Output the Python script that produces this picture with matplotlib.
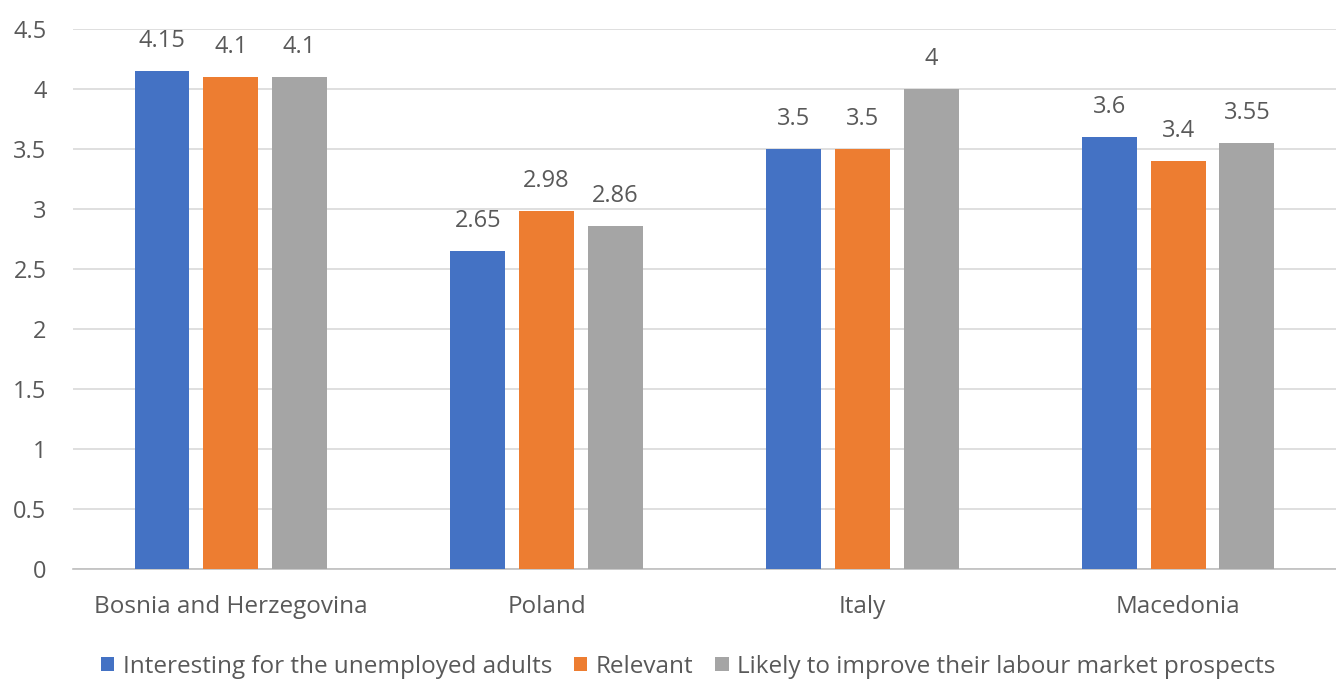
import matplotlib
matplotlib.use("Agg")
import matplotlib.pyplot as plt
import numpy as np

categories = ["Bosnia and Herzegovina", "Poland", "Italy", "Macedonia"]
series_names = ["Interesting for the unemployed adults", "Relevant",
                "Likely to improve their labour market prospects"]
interesting = [4.15, 2.65, 3.5, 3.6]
relevant = [4.1, 2.98, 3.5, 3.4]
likely = [4.1, 2.86, 4.0, 3.55]
labels_interesting = ["4.15", "2.65", "3.5", "3.6"]
labels_relevant = ["4.1", "2.98", "3.5", "3.4"]
labels_likely = ["4.1", "2.86", "4", "3.55"]
yticks = [0, 0.5, 1, 1.5, 2, 2.5, 3, 3.5, 4, 4.5]
ytick_labels = ["0", "0.5", "1", "1.5", "2", "2.5", "3", "3.5", "4", "4.5"]

colors = ["#4472C4", "#ED7D31", "#A5A5A5"]
text_color = "#595959"
plt.rcParams['font.family'] = ['Open Sans', 'DejaVu Sans']
fs = 17

fig = plt.figure(figsize=(13.36, 6.82), dpi=100)
ax = fig.add_axes([0.0546, 0.1657, 0.9454, 0.7918])

x = np.arange(len(categories))
width = 0.174
offsets = [-0.218, 0.0, 0.218]
all_vals = [interesting, relevant, likely]
all_labels = [labels_interesting, labels_relevant, labels_likely]
for vals, labs, off, c, name in zip(all_vals, all_labels, offsets, colors, series_names):
    bars = ax.bar(x + off, vals, width, color=c, label=name, zorder=3)
    ax.bar_label(bars, labels=labs, padding=13, fontsize=fs, color=text_color)

ax.set_xlim(-0.5, len(categories) - 0.5)
ax.set_ylim(0, 4.5)
ax.set_yticks(yticks)
ax.set_yticklabels(ytick_labels)
ax.set_xticks(x)
ax.set_xticklabels(categories, fontsize=17.5)
ax.tick_params(axis='y', labelsize=fs)
ax.tick_params(axis='both', length=0, labelcolor=text_color)
ax.tick_params(axis='x', pad=19)
ax.tick_params(axis='y', pad=19)
ax.grid(axis='y', color="#D9D9D9", linewidth=1.2, zorder=0)
for s in ['top', 'right', 'left']:
    ax.spines[s].set_visible(False)
ax.spines['bottom'].set_color("#BFBFBF")
ax.spines['bottom'].set_linewidth(1.2)

fig.legend(loc='lower center', bbox_to_anchor=(0.515, -0.027), ncol=3, frameon=False,
           fontsize=17.5, labelcolor=text_color, handlelength=0.55, handleheight=0.55,
           handletextpad=0.35, columnspacing=0.9)

fig.savefig("out.png", dpi=100)
